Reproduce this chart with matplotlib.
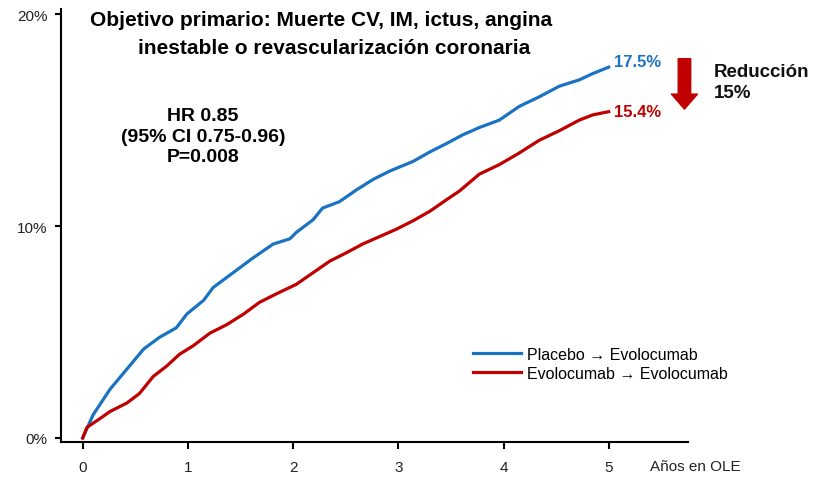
import matplotlib.pyplot as plt

plt.rcParams['font.family'] = ['Liberation Sans', 'DejaVu Sans']

# datos (años, % acumulado)
anos_placebo = [0, 0.10, 0.26, 0.42, 0.58, 0.73, 0.89, 0.99, 1.15, 1.24, 1.43, 1.62,
                1.81, 1.97, 2.03, 2.19, 2.28, 2.44, 2.60, 2.76, 2.92, 3.14, 3.30, 3.46,
                3.61, 3.77, 3.96, 4.15, 4.34, 4.53, 4.72, 4.85, 5.0]
placebo = [0, 1.1, 2.3, 3.25, 4.2, 4.75, 5.2, 5.85, 6.5, 7.1, 7.8, 8.5,
           9.15, 9.4, 9.7, 10.3, 10.85, 11.15, 11.7, 12.2, 12.6, 13.05, 13.5, 13.9,
           14.3, 14.65, 15.0, 15.65, 16.1, 16.6, 16.9, 17.2, 17.5]

anos_evolocumab = [0, 0.04, 0.16, 0.26, 0.42, 0.54, 0.67, 0.80, 0.92, 1.05, 1.21, 1.37,
                   1.53, 1.68, 1.84, 2.03, 2.19, 2.35, 2.51, 2.66, 2.82, 2.98, 3.14, 3.30,
                   3.46, 3.58, 3.77, 3.96, 4.15, 4.34, 4.53, 4.72, 4.85, 5.0]
evolocumab = [0, 0.5, 0.9, 1.25, 1.65, 2.1, 2.9, 3.4, 3.95, 4.35, 4.95, 5.35,
              5.85, 6.4, 6.8, 7.25, 7.8, 8.35, 8.75, 9.15, 9.5, 9.85, 10.25, 10.7,
              11.25, 11.65, 12.45, 12.9, 13.45, 14.05, 14.5, 15.0, 15.25, 15.4]

xticks = [0, 1, 2, 3, 4, 5]
yticks = [0, 10, 20]
ytick_labels = ['0%', '10%', '20%']

azul = '#1a72c2'
rojo = '#c00000'

fig = plt.figure(figsize=(8.18, 4.81), dpi=100)
ax = fig.add_axes([0.0746, 0.079, 0.766, 0.900])

ax.plot(anos_placebo, placebo, color=azul, lw=2.3, label='Placebo → Evolocumab',
        solid_joinstyle='round', clip_on=False)
ax.plot(anos_evolocumab, evolocumab, color=rojo, lw=2.3, label='Evolocumab → Evolocumab',
        solid_joinstyle='round', clip_on=False)

ax.set_xlim(-0.206, 5.75)
ax.set_ylim(-0.19, 20.24)
ax.set_xticks(xticks)
ax.set_yticks(yticks)
ax.set_yticklabels(ytick_labels)
for s in ['top', 'right']:
    ax.spines[s].set_visible(False)
for s in ['left', 'bottom']:
    ax.spines[s].set_linewidth(1.5)
ax.tick_params(axis='y', length=4.5, width=1.5, pad=5, labelsize=11, colors='#222222')
ax.tick_params(axis='x', length=5, width=1.5, pad=8, labelsize=11, colors='#222222')
ax.tick_params(axis='both', color='black')

# textos
ax.text(2.27, 19.76, 'Objetivo primario: Muerte CV, IM, ictus, angina',
        ha='center', va='center', fontsize=15, fontweight='bold')
ax.text(2.39, 18.44, 'inestable o revascularización coronaria',
        ha='center', va='center', fontsize=15, fontweight='bold')
ax.text(1.144, 14.25, 'HR 0.85\n(95% CI 0.75-0.96)\nP=0.008', ha='center', va='center',
        fontsize=14, fontweight='bold', linespacing=1.3)

ax.text(5.05, 17.78, '17.5%', color=azul, ha='left', va='center', fontsize=12,
        fontweight='bold', clip_on=False)
ax.text(5.05, 15.42, '15.4%', color=rojo, ha='left', va='center', fontsize=12,
        fontweight='bold', clip_on=False)

ax.annotate('', xy=(5.72, 15.52), xytext=(5.72, 17.9), annotation_clip=False,
            arrowprops=dict(arrowstyle='simple,head_width=0.94,head_length=0.54,tail_width=0.45',
                            mutation_scale=20, color=rojo, shrinkA=0, shrinkB=0))
ax.text(6.0, 16.82, 'Reducción\n15%', ha='left', va='center', fontsize=13.5,
        fontweight='bold', linespacing=1.3, clip_on=False, color='#111111')

ax.text(5.39, -0.055, 'Años en OLE', transform=ax.get_xaxis_transform(),
        ha='left', va='center', fontsize=11, color='#222222')

ax.legend(loc='upper left', bbox_to_anchor=(0.657, 0.22), frameon=False,
          fontsize=11.5, handlelength=3.0, handletextpad=0.4, labelspacing=0.25,
          borderpad=0, borderaxespad=0)

fig.savefig('out.png', dpi=100)
